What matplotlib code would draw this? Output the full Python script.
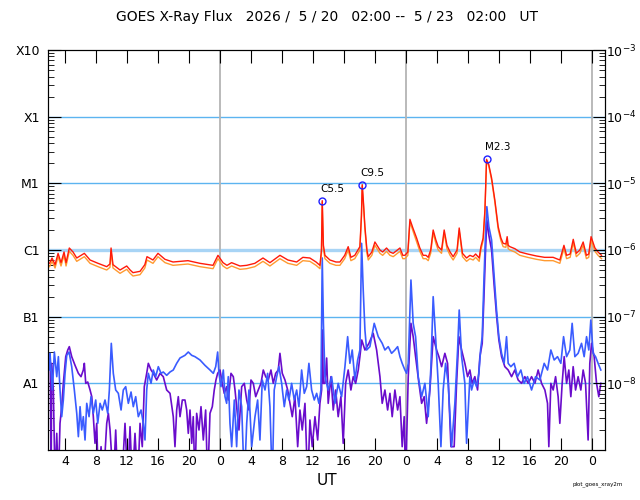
import matplotlib
matplotlib.use("Agg")
import matplotlib.pyplot as plt
import numpy as np

# time axis: hours after 2026-05-20 02:00 UT ; flux given as log10(W/m^2)
red_t = [0.0, 0.32, 0.71, 1.1, 1.48, 1.87, 2.13, 2.55, 3.03, 3.51, 3.94, 4.49, 5.23, 6.26, 7.38, 7.8, 7.94,
         8.19, 9.1, 9.96, 10.4, 10.77, 11.68, 12.3, 12.58, 13.35, 14.0, 14.9, 15.94, 17.87, 19.42, 21.1,
         21.74, 22.39, 22.9, 23.5, 24.58, 25.45, 26.5, 27.55, 28.45, 29.74, 30.77, 31.9, 32.7, 33.6, 34.4,
         34.9, 35.1, 35.2, 35.35, 35.55, 36.19, 36.97, 37.48, 38.1, 38.55, 38.9, 39.4, 39.8, 40.06, 40.26,
         40.36, 40.5, 40.71, 40.97, 41.14, 41.6, 42.0, 42.65, 43.0, 43.5, 43.94, 44.36, 44.8, 45.23, 45.6,
         45.87, 46.25, 46.52, 46.9, 47.38, 47.8, 48.23, 48.6, 48.88, 49.2, 49.52, 49.87, 50.17, 50.6, 50.94,
         51.3, 51.7, 52.1, 52.6, 52.88, 53.3, 53.83, 54.26, 54.68, 55.0, 55.46, 55.68, 55.97, 56.2, 56.41,
         56.7, 57.06, 57.48, 57.91, 58.26, 58.55, 58.9, 59.07, 59.2, 59.42, 60.06, 60.71, 61.7, 62.86, 63.9,
         65.0, 65.87, 66.4, 66.74, 67.2, 67.6, 68.0, 68.45, 68.88, 69.3, 69.6, 69.9, 70.4, 70.8, 71.25]
red_lg = [-6.20, -6.12, -6.22, -6.05, -6.19, -6.03, -6.19, -5.97, -6.03, -6.12, -6.09, -6.05, -6.15, -6.20,
          -6.25, -6.21, -5.97, -6.22, -6.30, -6.24, -6.30, -6.34, -6.32, -6.22, -6.10, -6.15, -6.05, -6.14,
          -6.18, -6.16, -6.20, -6.23, -6.08, -6.19, -6.23, -6.19, -6.24, -6.23, -6.20, -6.12, -6.19, -6.08,
          -6.15, -6.18, -6.11, -6.12, -6.18, -6.23, -6.00, -5.26, -5.93, -6.08, -6.15, -6.18, -6.18, -6.08,
          -5.95, -6.11, -6.08, -6.00, -5.95, -5.48, -5.02, -5.25, -5.65, -6.00, -6.10, -6.03, -5.88, -6.00,
          -6.03, -5.97, -6.03, -6.05, -6.01, -5.97, -6.08, -6.08, -6.03, -5.54, -5.67, -5.82, -5.97, -6.08,
          -6.08, -6.11, -6.00, -5.70, -5.85, -5.95, -6.00, -5.70, -5.93, -6.03, -6.10, -6.00, -5.67, -6.05,
          -6.12, -6.08, -6.10, -6.06, -6.12, -5.95, -5.82, -5.40, -4.64, -4.72, -4.92, -5.25, -5.65, -5.82,
          -5.90, -5.91, -5.80, -5.93, -5.95, -5.98, -6.03, -6.06, -6.09, -6.11, -6.11, -6.15, -5.93, -6.08,
          -6.06, -5.84, -6.05, -6.00, -5.88, -6.08, -6.06, -5.80, -5.97, -6.03, -6.08]

# second long-wave channel, sampled at the same times as red_t
orange_lg = [-6.25, -6.17, -6.27, -6.10, -6.24, -6.08, -6.24, -6.02, -6.08, -6.17, -6.14, -6.10, -6.20, -6.25,
             -6.30, -6.26, -6.02, -6.27, -6.35, -6.29, -6.35, -6.39, -6.37, -6.27, -6.15, -6.20, -6.10, -6.19,
             -6.23, -6.21, -6.25, -6.28, -6.13, -6.24, -6.28, -6.24, -6.29, -6.28, -6.25, -6.17, -6.24, -6.13,
             -6.20, -6.23, -6.16, -6.17, -6.23, -6.28, -6.05, -5.28, -5.98, -6.13, -6.20, -6.23, -6.23, -6.13,
             -6.00, -6.16, -6.13, -6.05, -6.00, -5.51, -5.04, -5.28, -5.69, -6.05, -6.15, -6.08, -5.93, -6.05,
             -6.08, -6.02, -6.08, -6.10, -6.06, -6.02, -6.13, -6.13, -6.08, -5.58, -5.71, -5.87, -6.02, -6.13,
             -6.13, -6.16, -6.05, -5.74, -5.90, -6.00, -6.05, -5.74, -5.98, -6.08, -6.15, -6.05, -5.71, -6.10,
             -6.17, -6.13, -6.15, -6.11, -6.17, -6.00, -5.86, -5.43, -4.66, -4.74, -4.95, -5.28, -5.69, -5.86,
             -5.95, -5.96, -5.85, -5.98, -6.00, -6.03, -6.08, -6.11, -6.14, -6.16, -6.16, -6.20, -5.98, -6.13,
             -6.11, -5.89, -6.10, -6.05, -5.93, -6.13, -6.11, -5.85, -6.02, -6.08, -6.13]

blue_t = [0.0, 0.06, 0.36, 0.62, 0.93, 1.14, 1.35, 1.57, 1.78, 2.0, 2.22, 2.52, 2.86, 3.2, 3.51, 3.72, 3.94,
          4.15, 4.36, 4.58, 4.8, 5.1, 5.35, 5.65, 5.96, 6.22, 6.52, 6.81, 7.16, 7.51, 7.72, 7.97, 8.23, 8.54,
          8.88, 9.23, 9.52, 9.83, 10.17, 10.52, 10.81, 11.12, 11.46, 11.81, 12.1, 12.32, 12.54, 12.75, 13.1,
          13.39, 13.7, 14.04, 14.39, 14.68, 15.12, 15.55, 15.97, 16.41, 16.84, 17.48, 17.91, 18.35, 18.77,
          19.42, 20.06, 20.71, 21.14, 21.45, 21.7, 21.87, 22.13, 22.43, 22.65, 22.86, 23.07, 23.29, 23.51,
          23.85, 24.15, 24.45, 24.8, 25.14, 25.45, 25.74, 26.09, 26.52, 26.86, 27.16, 27.46, 27.81, 28.15,
          28.45, 28.75, 29.0, 29.32, 29.61, 29.96, 30.3, 30.61, 30.9, 31.25, 31.59, 31.9, 32.19, 32.54,
          32.88, 33.19, 33.48, 33.83, 34.17, 34.48, 34.77, 35.03, 35.2, 35.35, 35.55, 35.97, 36.41, 36.84,
          37.26, 37.7, 38.13, 38.48, 38.77, 39.07, 39.42, 39.77, 40.06, 40.28, 40.49, 40.71, 40.93, 41.35,
          41.91, 42.43, 42.94, 43.29, 43.72, 44.15, 44.58, 44.93, 45.23, 45.52, 45.87, 46.09, 46.3, 46.65,
          46.94, 47.25, 47.59, 48.03, 48.45, 48.88, 49.23, 49.52, 49.83, 50.17, 50.52, 50.81, 51.12, 51.46,
          51.9, 52.32, 52.67, 52.88, 53.19, 53.61, 53.83, 54.04, 54.26, 54.48, 54.81, 55.12, 55.42, 55.64,
          55.85, 56.06, 56.28, 56.45, 56.71, 57.06, 57.39, 57.7, 58.0, 58.35, 58.68, 58.99, 59.2, 59.55,
          59.97, 60.41, 60.84, 61.26, 61.7, 62.22, 62.74, 63.29, 63.85, 64.28, 64.71, 65.14, 65.57, 66.0,
          66.35, 66.74, 67.16, 67.46, 67.81, 68.23, 68.67, 69.01, 69.32, 69.61, 69.87, 70.17, 70.48, 70.81,
          71.16]
blue_lg = [-7.80, -7.55, -8.10, -7.53, -7.90, -7.60, -8.10, -8.50, -8.25, -7.85, -7.58, -7.53, -7.75, -8.10,
           -8.45, -8.80, -8.35, -8.70, -8.50, -8.85, -8.30, -8.50, -8.20, -8.45, -8.25, -8.60, -8.30, -8.40,
           -8.25, -8.45, -8.10, -7.40, -7.85, -8.10, -8.15, -8.40, -8.10, -8.05, -8.30, -8.13, -8.35, -8.20,
           -8.50, -8.40, -8.60, -8.85, -8.10, -7.85, -8.00, -7.80, -7.90, -7.75, -7.85, -7.83, -7.88, -7.83,
           -7.80, -7.70, -7.62, -7.58, -7.53, -7.58, -7.60, -7.65, -7.73, -7.80, -7.85, -7.75, -7.53, -7.85,
           -8.05, -7.80, -8.20, -8.30, -7.90, -8.60, -8.95, -8.25, -8.95, -8.10, -8.35, -9.50, -8.60, -8.10,
           -8.95, -8.50, -8.25, -8.85, -7.95, -8.10, -7.85, -8.35, -9.50, -8.10, -7.90, -7.75, -8.00, -8.35,
           -8.10, -8.25, -8.00, -8.25, -8.10, -8.35, -7.80, -8.15, -8.05, -7.70, -8.10, -8.25, -8.15, -8.30,
           -8.10, -6.12, -7.10, -7.90, -8.10, -7.90, -8.30, -8.00, -8.20, -7.75, -7.30, -7.70, -7.50, -7.95,
           -7.65, -7.50, -5.90, -6.60, -7.20, -7.50, -7.45, -7.10, -7.30, -7.40, -7.50, -7.45, -7.55, -7.50,
           -7.45, -7.60, -7.70, -7.80, -7.85, -7.70, -6.45, -7.10, -7.30, -7.90, -8.20, -8.00, -8.50, -7.75,
           -6.70, -7.30, -8.00, -8.95, -8.10, -7.70, -8.00, -8.95, -8.30, -7.50, -6.90, -7.60, -8.00, -8.90,
           -8.40, -7.90, -8.10, -7.95, -8.05, -7.85, -7.50, -7.30, -6.50, -5.75, -5.35, -5.65, -5.85, -6.40,
           -6.90, -7.30, -7.55, -7.70, -7.30, -7.70, -7.75, -7.70, -7.90, -7.80, -8.00, -7.90, -8.10, -7.90,
           -7.95, -7.70, -7.80, -7.50, -7.65, -7.60, -7.70, -7.30, -7.60, -7.50, -7.10, -7.60, -7.55, -7.40,
           -7.60, -7.30, -7.50, -7.05, -7.55, -7.60, -7.70, -7.80]

purple_t = [0.0, 0.1, 0.2, 0.28, 0.49, 0.71, 0.93, 1.14, 1.35, 1.57, 1.78, 2.09, 2.35, 2.55, 2.86, 3.29, 3.72,
            4.06, 4.36, 4.49, 4.67, 4.93, 5.23, 5.45, 5.65, 5.87, 6.09, 6.3, 6.65, 6.94, 7.38, 7.59, 7.81,
            8.23, 8.54, 8.8, 9.32, 9.74, 10.09, 10.39, 10.68, 11.03, 11.38, 11.68, 11.97, 12.23, 12.54, 12.75,
            13.1, 13.39, 13.83, 14.26, 14.68, 15.12, 15.55, 15.97, 16.19, 16.41, 16.62, 16.84, 17.14, 17.48,
            17.7, 17.91, 18.13, 18.35, 18.55, 18.77, 18.99, 19.29, 19.55, 19.85, 20.15, 20.41, 20.71, 21.01,
            21.26, 21.48, 21.7, 22.0, 22.3, 22.55, 22.86, 23.07, 23.42, 23.72, 23.94, 24.15, 24.45, 24.8,
            25.14, 25.45, 25.74, 26.0, 26.3, 26.61, 26.94, 27.29, 27.59, 27.9, 28.23, 28.58, 28.88, 29.19,
            29.52, 29.74, 30.04, 30.39, 30.74, 31.03, 31.33, 31.68, 32.03, 32.32, 32.62, 32.97, 33.32, 33.61,
            33.91, 34.26, 34.61, 34.9, 35.12, 35.23, 35.33, 35.55, 35.77, 35.97, 36.32, 36.62, 36.93, 37.26,
            37.61, 37.91, 38.22, 38.55, 38.9, 39.2, 39.51, 39.85, 40.06, 40.3, 40.71, 41.23, 41.78, 42.22,
            42.65, 42.94, 43.29, 43.64, 43.94, 44.23, 44.58, 44.93, 45.23, 45.52, 45.78, 45.96, 46.3, 46.65,
            46.94, 47.25, 47.68, 48.03, 48.36, 48.67, 49.1, 49.52, 49.96, 50.26, 50.61, 51.03, 51.38, 51.81,
            52.23, 52.54, 52.84, 53.19, 53.61, 53.96, 54.26, 54.55, 54.9, 55.25, 55.55, 55.85, 56.06, 56.28,
            56.45, 56.71, 57.06, 57.39, 57.7, 58.0, 58.35, 58.77, 59.2, 59.64, 60.06, 60.49, 60.93, 61.35,
            61.78, 62.22, 62.65, 63.07, 63.51, 63.94, 64.28, 64.45, 64.71, 65.01, 65.32, 65.65, 65.87, 66.17,
            66.43, 66.74, 67.03, 67.29, 67.59, 67.9, 68.23, 68.58, 68.88, 69.19, 69.52, 69.74, 69.96, 70.3,
            70.61, 70.9, 71.16]
purple_lg = [-7.60, -7.75, -9.50, -7.70, -8.10, -9.50, -8.75, -9.50, -8.60, -8.35, -8.00, -7.60, -7.50, -7.45,
             -7.60, -7.73, -7.85, -7.90, -7.80, -7.70, -8.00, -7.98, -8.10, -8.20, -8.50, -8.90, -8.60, -9.50,
             -8.95, -9.50, -8.60, -8.45, -8.70, -9.50, -8.70, -9.50, -9.50, -8.60, -9.50, -8.65, -9.50, -8.75,
             -9.50, -8.60, -8.95, -8.05, -7.85, -7.70, -7.80, -7.85, -7.95, -7.85, -7.90, -8.10, -8.15, -8.50,
             -8.95, -8.40, -8.20, -8.50, -8.25, -8.25, -8.40, -8.75, -8.40, -8.90, -8.50, -9.50, -8.45, -8.70,
             -8.35, -8.85, -8.40, -9.50, -8.45, -8.35, -8.10, -7.95, -7.85, -7.80, -8.00, -8.15, -8.05, -8.25,
             -7.85, -7.90, -8.10, -8.35, -8.70, -8.05, -8.00, -8.25, -8.40, -7.95, -8.00, -8.20, -8.10, -8.00,
             -7.80, -7.90, -7.95, -7.80, -8.00, -7.85, -7.80, -7.55, -7.85, -7.95, -8.10, -8.30, -8.50, -8.20,
             -8.95, -8.40, -8.70, -8.30, -9.50, -8.55, -8.95, -8.50, -8.85, -8.30, -8.10, -7.20, -8.00, -8.00,
             -7.62, -8.30, -7.90, -8.40, -8.10, -8.50, -8.20, -8.90, -8.00, -7.80, -8.10, -7.90, -8.00, -7.80,
             -7.60, -7.35, -7.50, -7.40, -7.25, -7.50, -7.90, -8.30, -8.10, -8.40, -8.15, -8.50, -8.10, -8.40,
             -8.20, -8.95, -8.50, -9.50, -7.90, -7.10, -7.30, -7.60, -8.00, -8.30, -8.20, -8.60, -8.10, -7.30,
             -7.50, -7.60, -7.75, -7.55, -7.70, -8.95, -8.95, -8.00, -7.30, -7.50, -7.70, -7.90, -7.80, -8.00,
             -7.90, -8.10, -7.60, -7.40, -6.75, -6.00, -5.55, -5.78, -6.00, -6.53, -6.98, -7.35, -7.60, -7.75,
             -7.80, -7.90, -7.80, -7.95, -8.00, -7.90, -8.00, -7.90, -8.00, -7.80, -8.00, -8.10, -8.30, -8.95,
             -8.00, -8.10, -7.90, -8.20, -8.60, -8.00, -7.60, -8.00, -7.80, -8.20, -7.75, -8.10, -7.90, -8.10,
             -7.80, -8.00, -8.85, -7.70, -7.40, -7.60, -8.00, -8.20, -8.00]

# flare peaks (time, flux, class label)
flare_t = [35.2, 40.36, 56.41]
flare_flux = [5.5e-6, 9.5e-6, 2.3e-5]
flare_lbl = ["C5.5", "C9.5", "M2.3"]

class_lbl = ["A1", "B1", "C1", "M1", "X1", "X10"]
decades = [1e-8, 1e-7, 1e-6, 1e-5, 1e-4, 1e-3]
day_breaks = [22, 46, 70]

plt.rcParams['font.family'] = 'DejaVu Sans'
fig = plt.figure(figsize=(6.4, 5.0), dpi=100)
ax = fig.add_axes([48 / 640, 50 / 500, 557 / 640, 400 / 500])

for d in decades[:-1]:
    if d == 1e-6:
        ax.axhline(d, color="#a8d4f5", lw=2.4, zorder=1)
    else:
        ax.axhline(d, color="#5cb4f0", lw=1.0, zorder=1)
for d in day_breaks:
    ax.axvline(d, color="#b4b4b4", lw=1.3, zorder=1)

ax.plot(purple_t, 10 ** np.array(purple_lg), color="#6a0ccc", lw=1.2, zorder=2)
ax.plot(blue_t, 10 ** np.array(blue_lg), color="#3a5cff", lw=1.2, zorder=3)
ax.plot(red_t, 10 ** np.array(orange_lg), color="#ff9a30", lw=1.0, zorder=4)
ax.plot(red_t, 10 ** np.array(red_lg), color="#ff1a0a", lw=1.0, zorder=5)

ax.plot(flare_t, flare_flux, "o", mfc="none", mec="#2020ff", ms=5, mew=1.0, zorder=6)
for t, f, s in zip(flare_t, flare_flux, flare_lbl):
    ax.annotate(s, (t, f), xytext=(-1, 5), textcoords="offset points",
                ha="left", va="bottom", fontsize=7.5)

ax.set_yscale("log")
ax.set_ylim(1e-9, 1e-3)
ax.set_xlim(-0.2, 71.7)
ax.set_yticks(decades)
ax.set_yticklabels(class_lbl, fontsize=9)
ax.set_xticks(np.arange(2, 72, 4))
ax.set_xticklabels([str((2 + h) % 24) for h in range(2, 72, 4)], fontsize=9)
ax.tick_params(which="major", direction="in", length=9, top=True)
ax.tick_params(axis="y", which="minor", direction="in", length=4)
ax.tick_params(axis="x", which="minor", bottom=False, top=False)
ax.tick_params(axis="y", pad=6)

ax2 = ax.twinx()
ax2.set_yscale("log")
ax2.set_ylim(1e-9, 1e-3)
ax2.set_yticks(decades)
ax2.set_yticklabels([r"$10^{%d}$" % int(np.log10(d)) for d in decades], fontsize=9)
ax2.tick_params(which="major", direction="in", length=9, pad=1)
ax2.tick_params(which="minor", direction="in", length=4)

ax.set_title("GOES X-Ray Flux   2026 /  5 / 20   02:00 --  5 / 23   02:00   UT", fontsize=10, pad=21)
ax.set_xlabel("UT", fontsize=11, labelpad=4)
fig.text(0.895, 0.03, "plot_goes_xray2m", fontsize=4)

fig.savefig("out.png", dpi=100)
